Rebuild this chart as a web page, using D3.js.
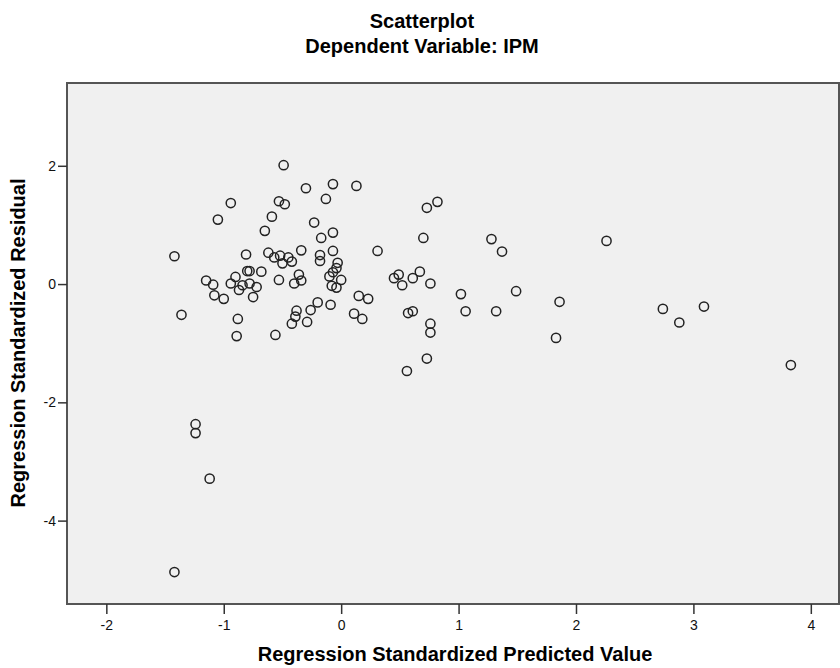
<!DOCTYPE html>
<html>
<head>
<meta charset="utf-8">
<script src="https://cdn.jsdelivr.net/npm/d3@7"></script>
<style>
  body { margin: 0; background: #fff; }
  text { font-family: "Liberation Sans", Arial, sans-serif; }
</style>
</head>
<body>
<svg id="chart" width="840" height="668"></svg>
<script>
// predicted (x) and residual (y)
const predicted = [
  -0.49, -0.30, -0.07, 0.13, -0.94, -0.53, -0.48, -0.13, -1.05, -0.59,
  -0.23, -0.65, -0.17, -0.07, 0.31, -1.42, -0.81, -0.62, -0.57, -0.52,
  -0.50, -0.45, -0.42, -0.34, -0.18, -0.18, -0.07, -0.03, -0.04, -0.07,
  -0.10, 0.00, -0.08, -0.04, -1.15, -1.09, -1.08, -1.00, -0.94, -0.90,
  -0.87, -0.84, -0.80, -0.78, -0.78, -0.72, -0.75, -0.68, -0.53, -0.40,
  -0.36, -0.34, -0.20, -0.09, 0.15, 0.23, -1.36, -0.88, -0.89, -0.56,
  -0.38, -0.39, -0.42, -0.26, -0.29, 0.11, 0.18, 0.73, 0.82, 0.70,
  1.28, 1.37, 2.26, 0.45, 0.49, 0.52, 0.61, 0.67, 0.76, 1.02,
  1.06, 1.32, 1.49, 1.86, 1.83, 0.57, 0.61, 0.76, 0.76, 0.73,
  0.56, -1.24, -1.24, -1.12, -1.42, 2.74, 2.88, 3.09, 3.83
];
const residual = [
  2.01, 1.62, 1.69, 1.66, 1.37, 1.40, 1.35, 1.44, 1.09, 1.14,
  1.04, 0.90, 0.78, 0.87, 0.56, 0.47, 0.50, 0.53, 0.45, 0.48,
  0.35, 0.45, 0.38, 0.57, 0.49, 0.39, 0.56, 0.36, 0.27, 0.20,
  0.13, 0.07, -0.03, -0.06, 0.06, -0.01, -0.19, -0.25, 0.01, 0.12,
  -0.10, -0.02, 0.22, 0.22, 0.01, -0.05, -0.22, 0.21, 0.07, 0.01,
  0.16, 0.06, -0.31, -0.35, -0.20, -0.25, -0.52, -0.59, -0.88, -0.86,
  -0.45, -0.55, -0.67, -0.44, -0.64, -0.50, -0.59, 1.29, 1.39, 0.78,
  0.76, 0.55, 0.73, 0.10, 0.16, -0.02, 0.10, 0.21, 0.01, -0.17,
  -0.46, -0.46, -0.12, -0.30, -0.91, -0.49, -0.46, -0.67, -0.82, -1.26,
  -1.47, -2.37, -2.52, -3.29, -4.87, -0.42, -0.65, -0.38, -1.37
];
const xTicks = [-2, -1, 0, 1, 2, 3, 4];
const yTicks = [2, 0, -2, -4];

const svg = d3.select("#chart");
const plotL = 67, plotR = 839, plotT = 83, plotB = 604;

const x = d3.scaleLinear().domain([-2.335, 4.24]).range([plotL, plotR]);
const y = d3.scaleLinear().domain([-5.41, 3.40]).range([plotB, plotT]);

// plot background
svg.append("rect")
  .attr("x", plotL).attr("y", plotT)
  .attr("width", plotR - plotL).attr("height", plotB - plotT)
  .attr("fill", "#f0f0f0")
  .attr("stroke", "#555")
  .attr("stroke-width", 2);

// axes
const xAxis = svg.append("g")
  .attr("transform", "translate(0," + plotB + ")")
  .call(d3.axisBottom(x).tickValues(xTicks).tickSize(10).tickPadding(6).tickFormat(d3.format("d")));
const yAxis = svg.append("g")
  .attr("transform", "translate(" + plotL + ",0)")
  .call(d3.axisLeft(y).tickValues(yTicks).tickSize(9).tickPadding(2).tickFormat(d3.format("d")));

[xAxis, yAxis].forEach(a => {
  a.select(".domain").remove();
  a.selectAll(".tick line").attr("stroke", "#333").attr("stroke-width", 1.5);
  a.selectAll(".tick text")
    .attr("font-size", "14px")
    .attr("fill", "#111")
    .attr("font-family", "'Liberation Sans', Arial, sans-serif");
});
// the minus signs in the picture are plain hyphens
svg.selectAll(".tick text").text(d => String(d));

// points
svg.append("g")
  .selectAll("circle")
  .data(predicted.map((p, i) => [p, residual[i]]))
  .enter().append("circle")
  .attr("cx", d => x(d[0]))
  .attr("cy", d => y(d[1]))
  .attr("r", 4.6)
  .attr("fill", "none")
  .attr("stroke", "#222")
  .attr("stroke-width", 1.5);

// titles
svg.append("text")
  .attr("x", 422).attr("y", 28)
  .attr("text-anchor", "middle")
  .attr("font-size", "20px").attr("font-weight", "bold")
  .text("Scatterplot");
svg.append("text")
  .attr("x", 422).attr("y", 53)
  .attr("text-anchor", "middle")
  .attr("font-size", "20px").attr("font-weight", "bold")
  .text("Dependent Variable: IPM");

svg.append("text")
  .attr("x", 455).attr("y", 661)
  .attr("text-anchor", "middle")
  .attr("font-size", "20px").attr("font-weight", "bold")
  .text("Regression Standardized Predicted Value");

svg.append("text")
  .attr("transform", "translate(25,343) rotate(-90)")
  .attr("text-anchor", "middle")
  .attr("font-size", "20px").attr("font-weight", "bold")
  .text("Regression Standardized Residual");
</script>
</body>
</html>
